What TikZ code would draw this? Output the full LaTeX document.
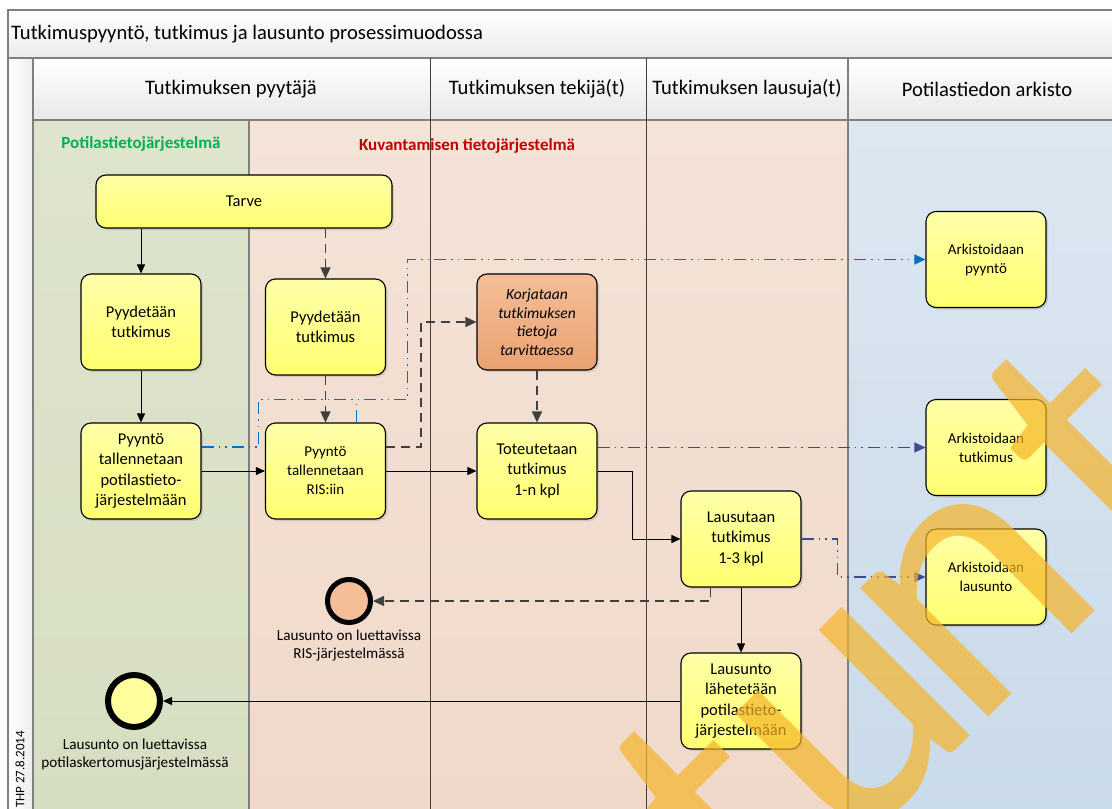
\documentclass[tikz,border=0pt]{standalone}
\usepackage{fontspec}
\setmainfont{Carlito}
\usetikzlibrary{arrows.meta,shadows,calc}

\definecolor{laneGreenTop}{HTML}{DEE4CD}
\definecolor{laneGreenBot}{HTML}{D6DEC2}
\definecolor{laneSalTop}{HTML}{F4E3D7}
\definecolor{laneSalBot}{HTML}{F0D9CA}
\definecolor{laneBlueTop}{HTML}{DDE7F1}
\definecolor{laneBlueBot}{HTML}{C9DAEA}
\definecolor{boxTop}{HTML}{FFFFA8}
\definecolor{boxBot}{HTML}{FFFF70}
\definecolor{orTop}{HTML}{F4BE98}
\definecolor{orBot}{HTML}{E9A271}
\definecolor{frameGray}{HTML}{7F7F7F}
\definecolor{dashGray}{HTML}{404040}
\definecolor{archBlue}{HTML}{0070C0}
\definecolor{archNavy}{HTML}{3A4C94}
\definecolor{sysGreen}{HTML}{00B050}
\definecolor{sysRed}{HTML}{C00000}
\definecolor{stamp}{RGB}{245,180,40}

\tikzset{
  taskbox/.style={draw=black, line width=1.1pt, rounded corners=10pt,
    top color=boxTop, bottom color=boxBot, align=center,
    minimum width=120pt, minimum height=96pt, inner sep=2pt,
    font=\fontsize{16.5}{20.5}\selectfont,
    drop shadow={shadow xshift=2pt, shadow yshift=-2pt, opacity=0.25}},
  archbox/.style={taskbox, font=\fontsize{15}{19}\selectfont},
  fixbox/.style={taskbox, top color=orTop, bottom color=orBot,
    font=\fontsize{15.5}{18.5}\selectfont\itshape},
  endevent/.style={circle, draw=black, inner sep=0pt},
  eventlabel/.style={align=center, font=\fontsize{15.2}{18}\selectfont, inner sep=0pt},
  flow/.style={draw=black, line width=0.9pt, -{Triangle[length=9pt,width=8pt]}},
  msgflow/.style={draw=dashGray, line width=1.3pt, dash pattern=on 9pt off 6pt,
    -{Triangle[length=11pt,width=10pt]}},
  archflow/.style={line width=1.3pt,
    dash pattern=on 12pt off 5pt on 1.5pt off 5pt on 1.5pt off 5pt,
    -{Triangle[length=11pt,width=10pt]}},
  headtxt/.style={font=\fontsize{20.6}{24}\selectfont},
  systxt/.style={font=\fontsize{17}{20}\selectfont\bfseries}
}

\begin{document}
\begin{tikzpicture}[x=1pt,y=-1pt]
\useasboundingbox (0,0) rectangle (1112,809);
\fill[white] (0,0) rectangle (1112,809);

% ---- frame: title bar, side strip, lane headers
\shade[top color=white, bottom color=white!92!black] (8,10) rectangle (1112,58);
\shade[left color=white, right color=white!93!black] (8,58) rectangle (33,809);
\shade[top color=white, bottom color=white!91!black] (33,58) rectangle (1112,120);

% ---- lane bodies
\shade[top color=laneGreenTop, bottom color=laneGreenBot] (33,120) rectangle (249,809);
\shade[top color=laneSalTop, bottom color=laneSalBot] (249,120) rectangle (848,809);
\shade[top color=laneBlueTop, bottom color=laneBlueBot] (848,120) rectangle (1112,809);

% ---- frame lines
\draw[frameGray, line width=1.2pt] (8,809) -- (8,10) -- (1112,10);
\draw[frameGray, line width=1.2pt] (8,58) -- (1112,58);
\draw[frameGray, line width=1.2pt] (33,58) -- (33,809);
\draw[frameGray, line width=1.2pt] (33,120) -- (1112,120);
\draw[frameGray, line width=1.2pt] (249,120) -- (249,809);
\draw[frameGray, line width=1.2pt] (848,58) -- (848,809);
\draw[dashGray, line width=0.8pt] (430,58) -- (430,809);
\draw[dashGray, line width=0.8pt] (646,58) -- (646,809);

% ---- title and headers
\node[headtxt, anchor=west, inner sep=0pt] (title) at (11,34) {Tutkimuspyyntö, tutkimus ja lausunto prosessimuodossa};
\node[headtxt] (hReq) at (231,89) {Tutkimuksen pyytäjä};
\node[headtxt] (hDo) at (537,89) {Tutkimuksen tekijä(t)};
\node[headtxt] (hStm) at (747,89) {Tutkimuksen lausuja(t)};
\node[headtxt] (hArc) at (987,89) {Potilastiedon arkisto};
\node[rotate=90, anchor=west, inner sep=0pt, font=\fontsize{13}{15}\selectfont] (stampdate) at (20,808) {THP 27.8.2014};

\node[systxt, text=sysGreen] (sysPot) at (141,144) {Potilastietojärjestelmä};
\node[systxt, text=sysRed] (sysRis) at (467,146) {Kuvantamisen tietojärjestelmä};

% ---- tasks
\node[taskbox, minimum width=296pt, minimum height=53pt] (tarve) at (244,201.5) {Tarve};
\node[taskbox] (pyyL) at (141,322) {Pyydetään\\tutkimus};
\node[taskbox] (pyyM) at (325.5,327) {Pyydetään\\tutkimus};
\node[fixbox] (korj) at (537,322) {Korjataan\\tutkimuksen\\tietoja\\tarvittaessa};
\node[archbox] (arkP) at (986,259.5) {Arkistoidaan\\pyyntö};
\node[taskbox] (potL) at (141,471) {Pyyntö\\tallennetaan\\potilastieto-\\järjestelmään};
\node[taskbox, font=\fontsize{15}{19}\selectfont] (ris) at (325.5,471) {Pyyntö\\tallennetaan\\RIS:iin};
\node[taskbox] (tot) at (537,471) {Toteutetaan\\tutkimus\\1-n kpl};
\node[archbox] (arkT) at (986,447.5) {Arkistoidaan\\tutkimus};
\node[taskbox] (laus) at (741,539) {Lausutaan\\tutkimus\\1-3 kpl};
\node[archbox] (arkL) at (986,577) {Arkistoidaan\\lausunto};
\node[taskbox] (lah) at (741,701) {Lausunto\\lähetetään\\potilastieto-\\järjestelmään};

% ---- end events
\node[endevent, line width=5pt, fill=orTop, minimum size=43pt] (endO) at (349,601) {};
\node[eventlabel] (endOlab) at (349,646) {Lausunto on luettavissa\\RIS-järjestelmässä};
\node[endevent, line width=6pt, fill=boxTop!80!boxBot, minimum size=52pt] (endY) at (134,701) {};
\node[eventlabel] (endYlab) at (135,755) {Lausunto on luettavissa\\potilaskertomusjärjestelmässä};

% ---- sequence flows
\draw[flow] (tarve.south -| pyyL.north) -- (pyyL.north);
\draw[flow] (pyyL.south) -- (potL.north);
\draw[flow] (potL.east) -- (ris.west);
\draw[flow] (ris.east) -- (tot.west);
\draw[flow] (tot.east) -- ++(35,0) |- (laus.west);
\draw[flow] (laus.south) -- (lah.north);
\draw[flow] (lah.west) -- (endY.east);

% ---- dashed flows inside the imaging system
\draw[msgflow] (tarve.south -| pyyM.north) -- (pyyM.north);
\draw[msgflow] (pyyM.south) -- (ris.north);
\draw[msgflow] ([yshift=24pt]ris.east) -- ++(35,0) |- (korj.west);
\draw[msgflow] (korj.south) -- (tot.north);
\draw[msgflow] ([xshift=30pt]laus.south west) |- (endO.east);

% ---- archiving flows
\coordinate (reqJoin) at ($(ris.north)+(31,-23)$);
\draw[archflow, archBlue] ([yshift=24pt]potL.east) -- ++(57,0) |- (reqJoin) -| ($(reqJoin)+(51,0)$) |- (arkP.west);
\draw[archBlue, line width=1.3pt, dash pattern=on 12pt off 5pt on 1.5pt off 5pt on 1.5pt off 5pt] ([xshift=31pt]ris.north) -- (reqJoin);
\draw[archflow, archNavy] (arkT.west -| tot.east) -- (arkT.west);
\draw[archflow, archNavy] (laus.east) -- ++(36,0) |- (arkL.west);

% ---- watermark
\begin{scope}
\clip (0,0) rectangle (1112,809);
\node[rotate=45, anchor=base west, inner sep=0pt, text=stamp, opacity=0.7,
  font=\fontsize{380}{380}\selectfont] (wm) at (757,949) {tu\kern-25pt n\kern25pt t};
\end{scope}
\end{tikzpicture}
\end{document}
